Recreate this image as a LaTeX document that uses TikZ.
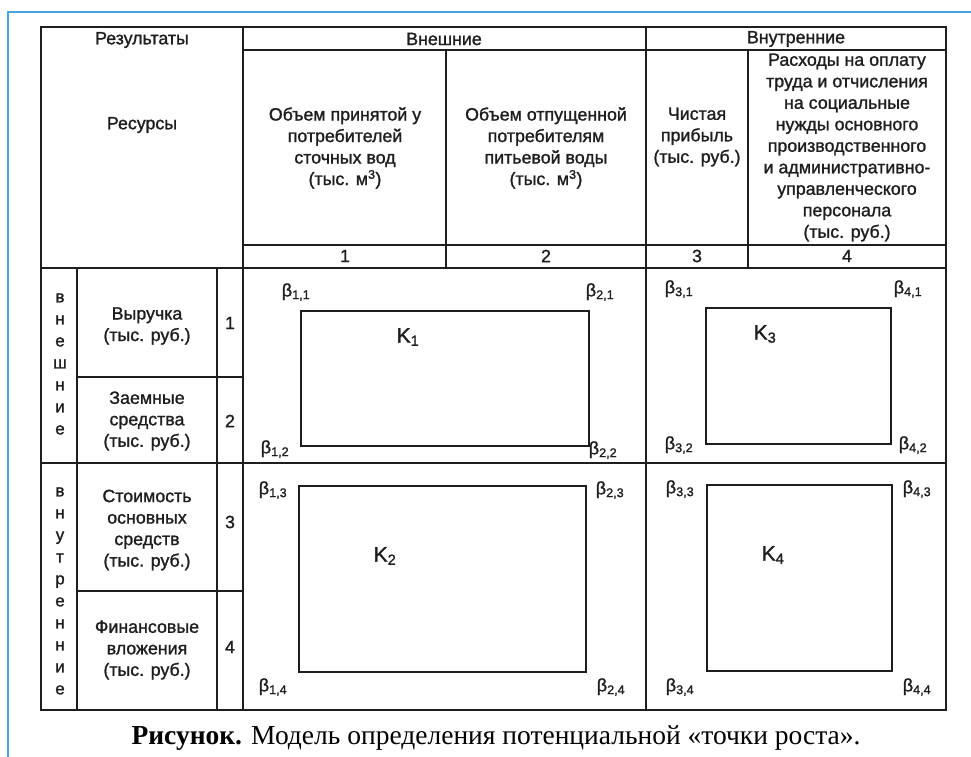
\documentclass[tikz,border=0pt]{standalone}
\usepackage{fontspec}
\setmainfont{Liberation Sans}[FakeBold=1.3]
\newfontfamily\capfont{Liberation Serif}
\definecolor{frameblue}{HTML}{4AA3DF}
\definecolor{ink}{HTML}{1E1E1E}
\begin{document}
\begin{tikzpicture}[x=1pt,y=-1pt,
  tbl/.style={line width=1.4pt, draw=ink},
  kbox/.style={line width=1.7pt, draw=ink},
  txt/.style={font=\fontsize{17.8}{21.5}\selectfont, align=center, inner sep=0pt, text=ink},
  betalbl/.style={font=\fontsize{18}{20}\selectfont, inner sep=0pt, text=ink},
  klbl/.style={font=\fontsize{21}{23}\selectfont, inner sep=0pt, text=ink},
  vert/.style={font=\fontsize{17}{22}\selectfont, align=center, inner sep=0pt, text=ink},
]
\useasboundingbox (0,0) rectangle (971,757);
% blue frame
\draw[line width=2pt, draw=frameblue] (8,757) -- (8,12) -- (971,12);
% table grid
\draw[tbl] (41,27) rectangle (946,710);
\draw[tbl] (243,27) -- (243,710);
\draw[tbl] (646,27) -- (646,710);
\draw[tbl] (446,50) -- (446,268);
\draw[tbl] (748,50) -- (748,268);
\draw[tbl] (77,268) -- (77,710);
\draw[tbl] (217,268) -- (217,710);
\draw[tbl] (243,50) -- (946,50);
\draw[tbl] (243,245) -- (946,245);
\draw[tbl] (41,268) -- (946,268);
\draw[tbl] (41,463) -- (946,463);
\draw[tbl] (77,377) -- (243,377);
\draw[tbl] (77,591) -- (243,591);
% header texts
\node[txt] (res) at (142,40) {Результаты};
\node[txt] (rsrc) at (142,125) {Ресурсы};
\node[txt] (ext) at (444,39) {Внешние};
\node[txt] (int) at (796,39) {Внутренние};
\node[txt] (h1) at (345,148) {Объем принятой у\\потребителей\\сточных вод\\(тыс. м\textsuperscript{3})};
\node[txt] (h2) at (546,148) {Объем отпущенной\\потребителям\\питьевой воды\\(тыс. м\textsuperscript{3})};
\node[txt] (h3) at (697,137) {Чистая\\прибыль\\(тыс. руб.)};
\node[txt] (h4) at (847,147.5) {Расходы на оплату\\труда и отчисления\\на социальные\\нужды основного\\производственного\\и административно-\\управленческого\\персонала\\(тыс. руб.)};
\node[txt] (n1) at (345,256) {1};
\node[txt] (n2) at (546,256) {2};
\node[txt] (n3) at (697,256) {3};
\node[txt] (n4) at (847,256) {4};
% left side
\node[vert] (vext) at (60,364) {в\\н\\е\\ш\\н\\и\\е};
\node[vert] (vint) at (60,591) {в\\н\\у\\т\\р\\е\\н\\н\\и\\е};
\node[txt] (r1) at (147,326) {Выручка\\(тыс. руб.)};
\node[txt] (r2) at (147,421) {Заемные\\средства\\(тыс. руб.)};
\node[txt] (r3) at (147,530) {Стоимость\\основных\\средств\\(тыс. руб.)};
\node[txt] (r4) at (147,650) {Финансовые\\вложения\\(тыс. руб.)};
\node[txt] (m1) at (230,323) {1};
\node[txt] (m2) at (230,421) {2};
\node[txt] (m3) at (230,522) {3};
\node[txt] (m4) at (230,647) {4};
% K boxes
\draw[kbox] (301,311) rectangle (589,446);
\draw[kbox] (706,308) rectangle (891,444);
\draw[kbox] (299,486) rectangle (586,672);
\draw[kbox] (707,485) rectangle (892,671);
\node[klbl] (k1) at (408,337) {K\textsubscript{1}};
\node[klbl] (k3) at (765,334) {K\textsubscript{3}};
\node[klbl] (k2) at (385,556) {K\textsubscript{2}};
\node[klbl] (k4) at (773,555) {K\textsubscript{4}};
% beta labels
\node[betalbl] (b11) at (296,292) {β\textsubscript{1,1}};
\node[betalbl] (b21) at (600,292) {β\textsubscript{2,1}};
\node[betalbl] (b12) at (275,449) {β\textsubscript{1,2}};
\node[betalbl] (b22) at (603,450) {β\textsubscript{2,2}};
\node[betalbl] (b31) at (679,289) {β\textsubscript{3,1}};
\node[betalbl] (b41) at (908,289) {β\textsubscript{4,1}};
\node[betalbl] (b32) at (679,445) {β\textsubscript{3,2}};
\node[betalbl] (b42) at (913,445) {β\textsubscript{4,2}};
\node[betalbl] (b13) at (273,490) {β\textsubscript{1,3}};
\node[betalbl] (b23) at (610,490) {β\textsubscript{2,3}};
\node[betalbl] (b14) at (273,687) {β\textsubscript{1,4}};
\node[betalbl] (b24) at (611,687) {β\textsubscript{2,4}};
\node[betalbl] (b33) at (680,489) {β\textsubscript{3,3}};
\node[betalbl] (b43) at (917,489) {β\textsubscript{4,3}};
\node[betalbl] (b34) at (680,687) {β\textsubscript{3,4}};
\node[betalbl] (b44) at (917,687) {β\textsubscript{4,4}};
% caption
\node[font=\capfont\fontsize{27.5}{30}\selectfont, inner sep=0pt, text=black] (cap) at (496,738)
  {\textbf{Рисунок.} Модель определения потенциальной «точки роста».};
\end{tikzpicture}
\end{document}
